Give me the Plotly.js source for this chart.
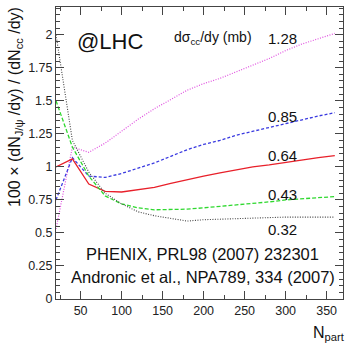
<!DOCTYPE html>
<html>
<head>
<meta charset="utf-8">
<script src="https://cdn.plot.ly/plotly-3.0.1.min.js"></script>
<style>html,body{margin:0;padding:0;background:#fff;}#plot{width:348px;height:344px;}</style>
</head>
<body>
<div id="plot"></div>
<script>
// Npart values
var npart = [20,40,60,80,100,120,140,160,180,200,220,240,260,280,300,320,340,360];
// J/psi / charm ratio for each d sigma_cc/dy (mb)
var s128 = [0.53,1.15,1.11,1.18,1.27,1.36,1.44,1.51,1.58,1.63,1.67,1.72,1.77,1.82,1.88,1.93,1.97,2.01];
var s085 = [0.75,1.07,0.93,0.92,0.95,0.99,1.03,1.08,1.13,1.17,1.20,1.24,1.27,1.30,1.33,1.36,1.385,1.41];
var s064 = [1.00,1.06,0.87,0.815,0.81,0.825,0.845,0.875,0.905,0.93,0.955,0.98,1.00,1.015,1.035,1.05,1.07,1.085];
var s043 = [1.50,1.15,0.93,0.78,0.72,0.69,0.675,0.675,0.68,0.69,0.70,0.71,0.725,0.735,0.75,0.757,0.765,0.775];
var s032 = [2.00,1.20,0.96,0.80,0.72,0.66,0.63,0.61,0.59,0.60,0.605,0.61,0.612,0.615,0.62,0.62,0.62,0.62];
var seriesLabels = ["1.28","0.85","0.64","0.43","0.32"];
var labelY = [1.97,1.38,1.085,0.79,0.525];
var xTickVals = [50,100,150,200,250,300,350];
var xTickText = ["50","100","150","200","250","300","350"];
var yTickVals = [0,0.25,0.5,0.75,1,1.25,1.5,1.75,2];
var yTickText = ["0","0.25","0.5","0.75","1","1.25","1.5","1.75","2"];

var F = "Liberation Sans, Arial, sans-serif";
function tr(y, color, dash, w){
  return {x: npart, y: y, type:'scatter', mode:'lines',
    line:{color:color, dash:dash, width:w}, hoverinfo:'skip', showlegend:false};
}
var data = [
  tr(s128, '#e050e0', '1px,1.5px', 1.2),
  tr(s085, '#3a3ae0', '3px,2px', 1.3),
  tr(s064, '#e8202a', 'solid', 1.3),
  tr(s043, '#2fd82f', '4px,2px', 1.3),
  tr(s032, '#444444', '1px,1.5px', 1.1)
];

var ann = [];
for (var i=0;i<seriesLabels.length;i++){
  ann.push({xref:'x', yref:'y', x:296, y:labelY[i], text:seriesLabels[i], showarrow:false,
    font:{family:F, size:15, color:'#111'}, xanchor:'center', yanchor:'middle'});
}
ann.push({xref:'paper', yref:'paper', x:(110-56)/287, y:(299-41)/292, text:'@LHC', showarrow:false,
  font:{family:F, size:22, color:'#111'}, xanchor:'center', yanchor:'middle'});
ann.push({xref:'paper', yref:'paper', x:(213-56)/287, y:(299-38)/292, text:'dσ<sub>cc</sub>/dy (mb)', showarrow:false,
  font:{family:F, size:14, color:'#111'}, xanchor:'center', yanchor:'middle'});
ann.push({xref:'paper', yref:'paper', x:(202-56)/287, y:(299-254)/292, text:'PHENIX, PRL98 (2007) 232301', showarrow:false,
  font:{family:F, size:16.5, color:'#111'}, xanchor:'center', yanchor:'middle'});
ann.push({xref:'paper', yref:'paper', x:(203-56)/287, y:(299-277)/292, text:'Andronic et al., NPA789, 334 (2007)', showarrow:false,
  font:{family:F, size:16.5, color:'#111'}, xanchor:'center', yanchor:'middle'});
ann.push({xref:'paper', yref:'paper', x:(347-56)/287, y:(299-333)/292, text:'N<sub>part</sub>', showarrow:false,
  font:{family:F, size:16, color:'#111'}, xanchor:'right', yanchor:'middle'});
ann.push({xref:'paper', yref:'paper', x:(16-56)/287, y:(299-5)/292, text:'100 × (dN<sub>J/ψ</sub> /dy) / (dN<sub>cc</sub> /dy)', showarrow:false,
  textangle:-90, font:{family:F, size:16, color:'#111'}, xanchor:'center', yanchor:'top'});

var layout = {
  width:348, height:344,
  margin:{l:56, r:5, t:7, b:45, pad:0},
  paper_bgcolor:'#fff', plot_bgcolor:'#fff',
  showlegend:false,
  xaxis:{range:[20,370], tickvals:xTickVals, ticktext:xTickText, ticks:'inside', ticklen:8, tickwidth:1,
    tickcolor:'#444', showline:true, linecolor:'#444', linewidth:1, mirror:'allticks', showgrid:false, zeroline:false,
    tickfont:{family:F, size:12.5, color:'#222'},
    minor:{dtick:25, tick0:0, ticks:'inside', ticklen:4, tickcolor:'#444', showgrid:false}},
  yaxis:{range:[0,2.21], tickvals:yTickVals, ticktext:yTickText, ticks:'inside', ticklen:8, tickwidth:1,
    tickcolor:'#444', showline:true, linecolor:'#444', linewidth:1, mirror:'allticks', showgrid:false, zeroline:false,
    tickfont:{family:F, size:12.5, color:'#222'},
    minor:{dtick:0.05, tick0:0, ticks:'inside', ticklen:4, tickcolor:'#444', showgrid:false}},
  annotations: ann
};
Plotly.newPlot('plot', data, layout, {staticPlot:true, displayModeBar:false});
</script>
</body>
</html>
